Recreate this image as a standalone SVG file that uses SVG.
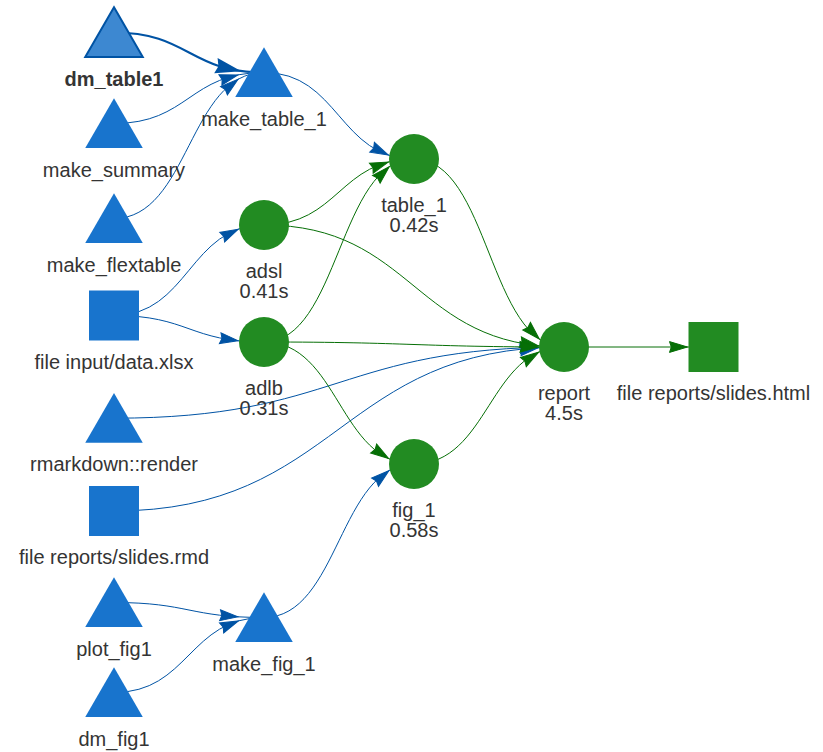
<svg xmlns="http://www.w3.org/2000/svg" xmlns:xlink="http://www.w3.org/1999/xlink" width="823" height="752" viewBox="0 0 823 752">
<style>
.imp{fill:#1874CD}
.ok{fill:#228B22}
.sel{fill:#3D88D1;stroke:#0053A4;stroke-width:2;stroke-linejoin:miter}
text{font-family:"Liberation Sans",Arial,sans-serif;font-size:20px;fill:#343434;text-anchor:middle}
.b{font-weight:bold}
.e{fill:none;stroke-width:1}
.eb{stroke:#0053A4}
.eg{stroke:#066F06}
.thick{stroke-width:2}
.ab{fill:#0053A4;stroke:#0053A4;stroke-width:1;stroke-miterlimit:10}
.ag{fill:#066F06;stroke:#066F06;stroke-width:1;stroke-miterlimit:10}
.ab2{fill:#0053A4;stroke:#0053A4;stroke-width:2;stroke-miterlimit:10}
</style>
<defs>
<path id="tri" d="M0,-25.3 L28.75,24.5 L-28.75,24.5 Z"/>
<path id="ah" d="M0,0 L-18,5.4 L-16.2,0 L-18,-5.4 Z"/>
<path id="ah2" d="M0,0 L-21,6.3 L-18.9,0 L-21,-6.3 Z"/>
</defs>
<rect width="823" height="752" fill="#ffffff"/>
<g id="edges">
<path class="e eb thick" d="M114,32.5 C189,32.5 189,72.5 264,72.5"/>
<use href="#ah2" class="ab2" transform="translate(237.9,70.6) rotate(12.6)"/>
<path class="e eb" d="M114,123.5 C189,123.5 189,72.5 264,72.5"/>
<use href="#ah" class="ab" transform="translate(237.7,75) rotate(-16.1)"/>
<path class="e eb" d="M114,218.5 C189,218.5 189,72.5 264,72.5"/>
<use href="#ah" class="ab" transform="translate(237.9,79.4) rotate(-39.3)"/>
<path class="e eb" d="M264,72.5 C339,72.5 339,159 414,159"/>
<use href="#ah" class="ab" transform="translate(388.3,155) rotate(25.5)"/>
<path class="e eb" d="M114,315.5 C189,315.5 189,225 264,225"/>
<use href="#ah" class="ab" transform="translate(238.3,229.2) rotate(-26.5)"/>
<path class="e eb" d="M114,315.5 C189,315.5 189,342 264,342"/>
<use href="#ah" class="ab" transform="translate(238,340.8) rotate(8.4)"/>
<path class="e eb" d="M114,418.2 C339,418.2 339,347 564,347"/>
<use href="#ah" class="ab" transform="translate(538.1,347.3) rotate(-3.5)"/>
<path class="e eb" d="M114,511 C339,511 339,347 564,347"/>
<use href="#ah" class="ab" transform="translate(538.1,347.8) rotate(-8)"/>
<path class="e eb" d="M114,602.5 C189,602.5 189,617.5 264,617.5"/>
<use href="#ah" class="ab" transform="translate(238,616.8) rotate(4.8)"/>
<path class="e eb" d="M114,692.5 C189,692.5 189,617.5 264,617.5"/>
<use href="#ah" class="ab" transform="translate(238.2,621) rotate(-22.6)"/>
<path class="e eb" d="M264,617.5 C339,617.5 339,464 414,464"/>
<use href="#ah" class="ab" transform="translate(388.9,470.7) rotate(-39.7)"/>
<path class="e eg" d="M264,225 C339,225 339,159 414,159"/>
<use href="#ah" class="ag" transform="translate(388.2,162.1) rotate(-20.1)"/>
<path class="e eg" d="M264,342 C339,342 339,159 414,159"/>
<use href="#ah" class="ag" transform="translate(389.2,166.8) rotate(-44.4)"/>
<path class="e eg" d="M264,225 C414,225 414,347 564,347"/>
<use href="#ah" class="ag" transform="translate(538,345.7) rotate(11.2)"/>
<path class="e eg" d="M264,342 C414,342 414,347 564,347"/>
<use href="#ah" class="ag" transform="translate(538,347) rotate(0.5)"/>
<path class="e eg" d="M264,342 C339,342 339,464 414,464"/>
<use href="#ah" class="ag" transform="translate(388.6,458.5) rotate(33.7)"/>
<path class="e eg" d="M414,159 C489,159 489,347 564,347"/>
<use href="#ah" class="ag" transform="translate(539.3,339) rotate(45.2)"/>
<path class="e eg" d="M414,464 C489,464 489,347 564,347"/>
<use href="#ah" class="ag" transform="translate(538.5,352.3) rotate(-32.7)"/>
<path class="e eg" d="M564,347 L713.5,347"/>
<use href="#ah" class="ag" transform="translate(687.5,347)"/>
</g>
<g id="dm_table1"><use href="#tri" class="sel" transform="translate(114,32.5)"/><text class="b" x="114" y="85.5">dm_table1</text></g>
<g id="make_summary"><use href="#tri" class="imp" transform="translate(114,123.5)"/><text x="114" y="176.5">make_summary</text></g>
<g id="make_flextable"><use href="#tri" class="imp" transform="translate(114,218.5)"/><text x="114" y="271.5">make_flextable</text></g>
<g id="file_input_data_xlsx"><rect class="imp" x="89" y="290.5" width="50" height="50"/><text x="114" y="368.5">file input/data.xlsx</text></g>
<g id="rmarkdown_render"><use href="#tri" class="imp" transform="translate(114,418.2)"/><text x="114" y="471.2">rmarkdown::render</text></g>
<g id="file_reports_slides_rmd"><rect class="imp" x="89" y="486" width="50" height="50"/><text x="114" y="564">file reports/slides.rmd</text></g>
<g id="plot_fig1"><use href="#tri" class="imp" transform="translate(114,602.5)"/><text x="114" y="655.5">plot_fig1</text></g>
<g id="dm_fig1"><use href="#tri" class="imp" transform="translate(114,692.5)"/><text x="114" y="745.5">dm_fig1</text></g>
<g id="make_table_1"><use href="#tri" class="imp" transform="translate(264,72.5)"/><text x="264" y="125.5">make_table_1</text></g>
<g id="adsl"><circle class="ok" cx="264" cy="225" r="25"/><text x="264" y="278">adsl</text><text x="264" y="298">0.41s</text></g>
<g id="adlb"><circle class="ok" cx="264" cy="342" r="25"/><text x="264" y="395">adlb</text><text x="264" y="415">0.31s</text></g>
<g id="make_fig_1"><use href="#tri" class="imp" transform="translate(264,617.5)"/><text x="264" y="670.5">make_fig_1</text></g>
<g id="table_1"><circle class="ok" cx="414" cy="159" r="25"/><text x="414" y="212">table_1</text><text x="414" y="232">0.42s</text></g>
<g id="fig_1"><circle class="ok" cx="414" cy="464" r="25"/><text x="414" y="517">fig_1</text><text x="414" y="537">0.58s</text></g>
<g id="report"><circle class="ok" cx="564" cy="347" r="25"/><text x="564" y="400">report</text><text x="564" y="420">4.5s</text></g>
<g id="file_reports_slides_html"><rect class="ok" x="688.5" y="322" width="50" height="50"/><text x="713.5" y="400">file reports/slides.html</text></g>
</svg>
